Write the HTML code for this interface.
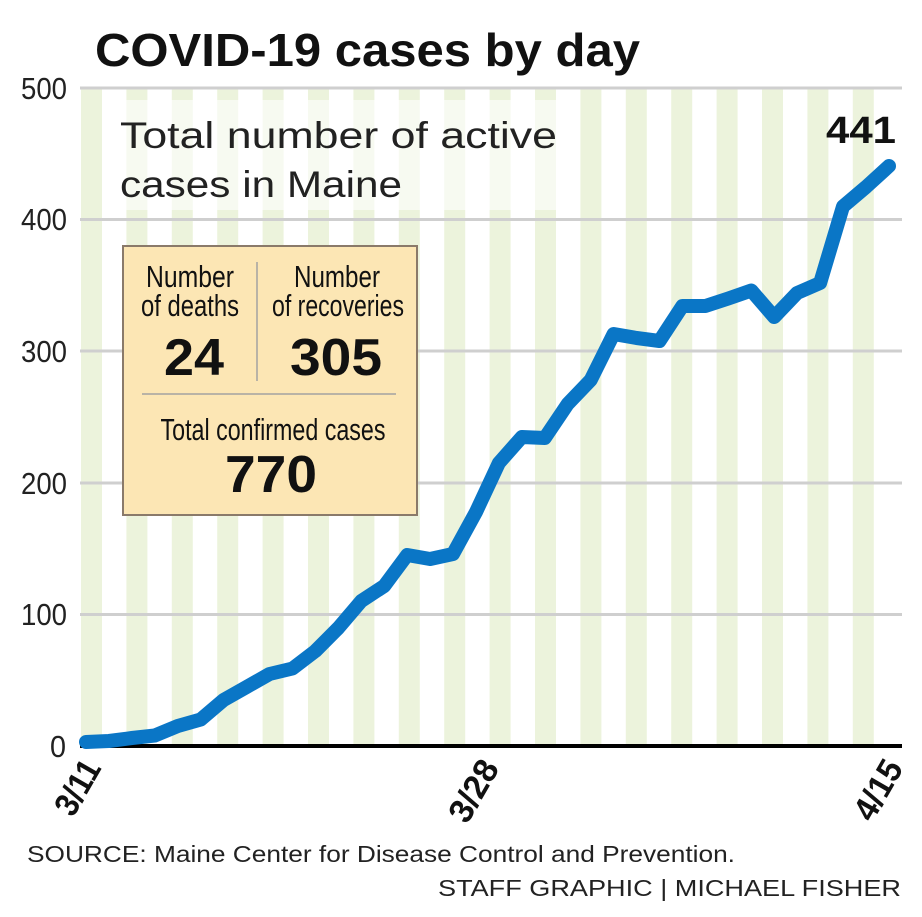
<!DOCTYPE html>
<html><head><meta charset="utf-8"><style>
html,body{margin:0;padding:0;background:#fff;}
svg{display:block;font-family:"Liberation Sans",sans-serif;}
</style></head><body>
<svg width="922" height="917" viewBox="0 0 922 917" xmlns="http://www.w3.org/2000/svg">
<rect width="922" height="917" fill="#fff"/>
<g fill="#ecf3dc">
<rect x="81" y="88" width="21" height="658"/>
<rect x="126.4" y="88" width="21" height="658"/>
<rect x="171.8" y="88" width="21" height="658"/>
<rect x="217.2" y="88" width="21" height="658"/>
<rect x="262.6" y="88" width="21" height="658"/>
<rect x="308" y="88" width="21" height="658"/>
<rect x="353.4" y="88" width="21" height="658"/>
<rect x="398.8" y="88" width="21" height="658"/>
<rect x="444.2" y="88" width="21" height="658"/>
<rect x="489.6" y="88" width="21" height="658"/>
<rect x="535" y="88" width="21" height="658"/>
<rect x="580.4" y="88" width="21" height="658"/>
<rect x="625.8" y="88" width="21" height="658"/>
<rect x="671.2" y="88" width="21" height="658"/>
<rect x="716.6" y="88" width="21" height="658"/>
<rect x="762" y="88" width="21" height="658"/>
<rect x="807.4" y="88" width="21" height="658"/>
<rect x="852.8" y="88" width="21" height="658"/>
</g>
<rect x="110" y="100" width="460" height="110" fill="#fff" opacity="0.6"/>
<g stroke="#cfcfcf" stroke-width="3">
<line x1="80" y1="88" x2="902" y2="88"/>
<line x1="80" y1="219.5" x2="902" y2="219.5"/>
<line x1="80" y1="351" x2="902" y2="351"/>
<line x1="80" y1="483" x2="902" y2="483"/>
<line x1="80" y1="614.5" x2="902" y2="614.5"/>
</g>
<line x1="80" y1="746" x2="902" y2="746" stroke="#000" stroke-width="4"/>
<g font-size="31" fill="#222" text-anchor="end">
<text x="67" y="99" textLength="46" lengthAdjust="spacingAndGlyphs">500</text>
<text x="67" y="230" textLength="46" lengthAdjust="spacingAndGlyphs">400</text>
<text x="67" y="362" textLength="46" lengthAdjust="spacingAndGlyphs">300</text>
<text x="67" y="494" textLength="46" lengthAdjust="spacingAndGlyphs">200</text>
<text x="67" y="625" textLength="46" lengthAdjust="spacingAndGlyphs">100</text>
<text x="66" y="757" textLength="16" lengthAdjust="spacingAndGlyphs">0</text>
</g>
<text x="95" y="66" font-size="46" font-weight="bold" fill="#111" textLength="545" lengthAdjust="spacingAndGlyphs">COVID-19 cases by day</text>
<text x="120" y="148" font-size="37" fill="#222" textLength="437" lengthAdjust="spacingAndGlyphs">Total number of active</text>
<text x="120" y="197" font-size="37" fill="#222" textLength="282" lengthAdjust="spacingAndGlyphs">cases in Maine</text>
<text x="826" y="143" font-size="38" font-weight="bold" fill="#111" textLength="70" lengthAdjust="spacingAndGlyphs">441</text>
<rect x="123" y="246" width="294" height="269" fill="#fce6b4" stroke="#8a7a6a" stroke-width="2"/>
<line x1="257" y1="262" x2="257" y2="381" stroke="#b9b3a6" stroke-width="2"/>
<line x1="142" y1="394" x2="396" y2="394" stroke="#b9b3a6" stroke-width="2"/>
<g font-size="31" fill="#111" text-anchor="middle">
<text x="190" y="287" textLength="88" lengthAdjust="spacingAndGlyphs">Number</text>
<text x="190" y="316" textLength="98" lengthAdjust="spacingAndGlyphs">of deaths</text>
<text x="337" y="287" textLength="86" lengthAdjust="spacingAndGlyphs">Number</text>
<text x="338" y="316" textLength="132" lengthAdjust="spacingAndGlyphs">of recoveries</text>
<text x="273" y="440" textLength="225" lengthAdjust="spacingAndGlyphs">Total confirmed cases</text>
</g>
<g font-size="52" font-weight="bold" fill="#111" text-anchor="middle">
<text x="194" y="375" textLength="60" lengthAdjust="spacingAndGlyphs">24</text>
<text x="336" y="375" textLength="92" lengthAdjust="spacingAndGlyphs">305</text>
<text x="271" y="492" textLength="92" lengthAdjust="spacingAndGlyphs">770</text>
</g>
<polyline fill="none" stroke="#0a76c6" stroke-width="14" stroke-linejoin="round" stroke-linecap="round" points="86,742 108.9,741 131.9,738 154.8,735.5 177.8,726 200.7,719.5 223.6,700 246.6,687 269.5,674 292.5,668.5 315.4,651 338.3,628 361.3,601 384.2,586 407.2,555 430.1,559 453,554 476,512 498.9,463 521.9,437 544.8,438 567.7,404 590.7,380 613.6,334 636.6,338 659.5,341 682.4,306 705.4,306 728.3,298.5 751.3,290.5 774.2,317 797.1,293 820.1,283 843,206.5 866,187 889,166"/>
<g font-size="34" font-weight="bold" fill="#111">
<text transform="translate(102,768) rotate(-60)" text-anchor="end" textLength="58" lengthAdjust="spacingAndGlyphs">3/11</text>
<text transform="translate(500,768) rotate(-60)" text-anchor="end" textLength="66" lengthAdjust="spacingAndGlyphs">3/28</text>
<text transform="translate(904,768) rotate(-60)" text-anchor="end" textLength="64" lengthAdjust="spacingAndGlyphs">4/15</text>
</g>
<text x="27" y="862" font-size="23" fill="#222" textLength="708" lengthAdjust="spacingAndGlyphs">SOURCE: Maine Center for Disease Control and Prevention.</text>
<text x="901" y="896" font-size="23" fill="#222" text-anchor="end" textLength="463" lengthAdjust="spacingAndGlyphs">STAFF GRAPHIC | MICHAEL FISHER</text>
</svg>
</body></html>
